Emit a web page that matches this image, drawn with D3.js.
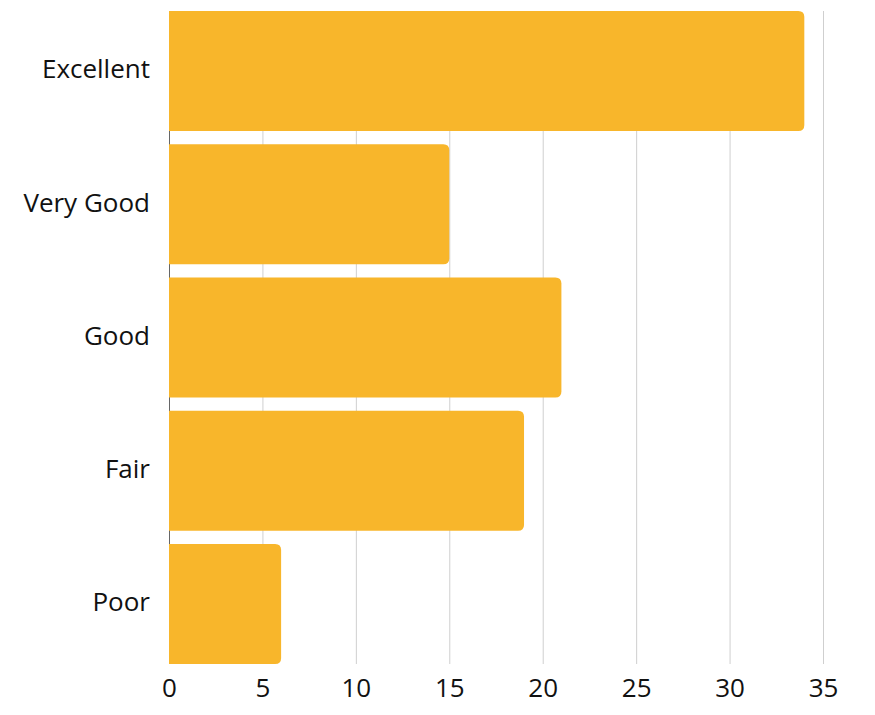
<!DOCTYPE html>
<html>
<head>
<meta charset="utf-8">
<script src="https://cdn.jsdelivr.net/npm/d3@7"></script>
<style>
  body { margin: 0; background: #fff; }
  text { font-family: "Open Sans", "Noto Sans", sans-serif; fill: #111; }
</style>
</head>
<body>
<svg id="canvas" width="875" height="715"></svg>
<script>
// data
const ratings = ["Excellent", "Very Good", "Good", "Fair", "Poor"];
const counts = [34, 15, 21, 19, 6];
const xTicks = [0, 5, 10, 15, 20, 25, 30, 35];

let svg = d3.select("#canvas");

// plot edges (top is a window global, so different names)
const plotLeft = 169, plotRight = 823, plotTop = 11, plotBottom = 664;
const barColor = "#f8b62b";
const fontSize = "26px";

let x = d3.scaleLinear().domain([0, 35]).range([plotLeft, plotRight]);
let y = d3.scaleBand().domain(ratings).range([plotTop, plotBottom]).paddingInner(0.1).paddingOuter(0);

// vertical grid lines
svg.append("g")
  .selectAll("line")
  .data(xTicks.slice(1))
  .enter()
  .append("line")
  .attr("x1", d => x(d) + 0.5).attr("x2", d => x(d) + 0.5)
  .attr("y1", plotTop).attr("y2", plotBottom)
  .attr("stroke", "#cfcfcf")
  .attr("stroke-width", 1);

// y axis line, mostly hidden under the bars
svg.append("line")
  .attr("x1", x(0) + 0.5).attr("x2", x(0) + 0.5)
  .attr("y1", plotTop).attr("y2", plotBottom)
  .attr("stroke", "#666")
  .attr("stroke-width", 1);

// bars, square on the left and rounded on the right
const r = 6;
const barPath = (d, i) => {
  const x0 = x(0), x1 = x(d), y0 = y(ratings[i]), h = y.bandwidth();
  const rr = Math.min(r, (x1 - x0) / 2);
  return `M${x0},${y0}H${x1 - rr}Q${x1},${y0} ${x1},${y0 + rr}` +
         `V${y0 + h - rr}Q${x1},${y0 + h} ${x1 - rr},${y0 + h}H${x0}Z`;
};
svg.append("g")
  .selectAll("path")
  .data(counts)
  .enter()
  .append("path")
  .attr("d", barPath)
  .attr("fill", barColor);

// category labels
svg.append("g")
  .selectAll("text")
  .data(ratings)
  .enter()
  .append("text")
  .attr("x", plotLeft - 19)
  .attr("y", d => y(d) + y.bandwidth() / 2)
  .attr("dy", "0.28em")
  .attr("text-anchor", "end")
  .style("font-size", fontSize)
  .text(d => d);

// x axis
let xAxis = d3.axisBottom(x).tickValues(xTicks).tickSize(0).tickPadding(15);
let gx = svg.append("g")
  .attr("transform", `translate(0,${plotBottom})`)
  .call(xAxis);
gx.select(".domain").remove();
gx.selectAll("text")
  .style("font-size", fontSize)
  .style("font-family", "'Open Sans', 'Noto Sans', sans-serif")
  .attr("fill", "#111");
</script>
</body>
</html>
